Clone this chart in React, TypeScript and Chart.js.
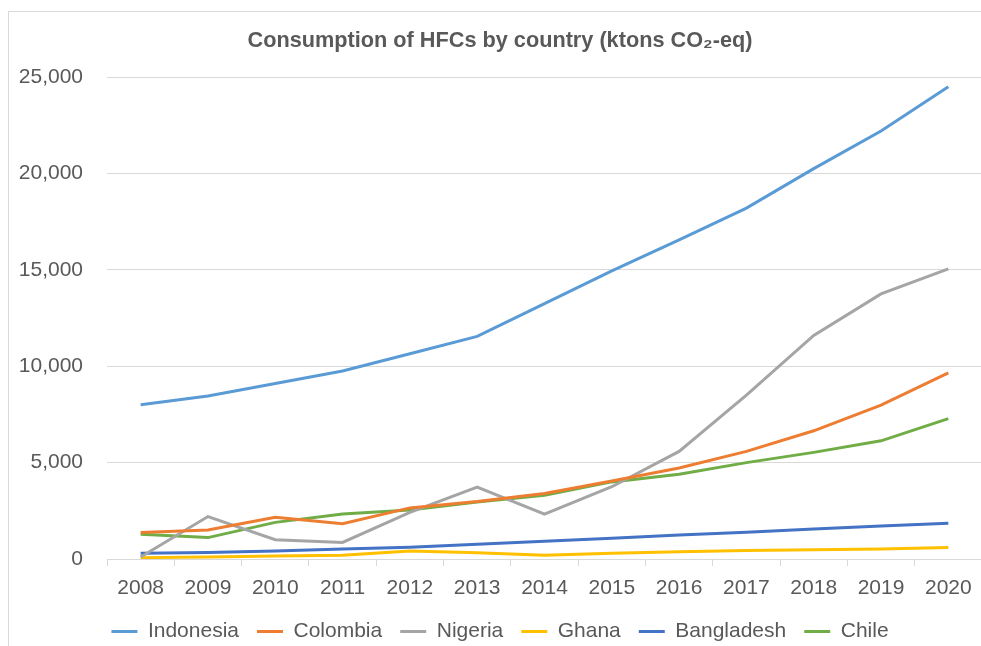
import React, { useEffect, useRef } from "react";
import { Chart, registerables } from "chart.js";

Chart.register(...registerables);

const years = ["2008", "2009", "2010", "2011", "2012", "2013", "2014", "2015", "2016", "2017", "2018", "2019", "2020"];
const indonesia = [8000, 8450, 9100, 9750, 10650, 11550, 13250, 14950, 16550, 18200, 20250, 22200, 24500];
const colombia = [1380, 1500, 2170, 1830, 2650, 2980, 3400, 4050, 4720, 5580, 6650, 7980, 9650];
const nigeria = [100, 2200, 1000, 860, 2420, 3730, 2330, 3750, 5580, 8500, 11600, 13750, 15050];
const ghana = [70, 110, 150, 200, 410, 330, 190, 300, 380, 440, 480, 520, 600];
const bangladesh = [300, 340, 420, 520, 610, 770, 920, 1080, 1240, 1390, 1550, 1710, 1860];
const chile = [1290, 1110, 1900, 2330, 2540, 2960, 3300, 4000, 4400, 5000, 5530, 6130, 7280];

const seriesNames = ["Indonesia", "Colombia", "Nigeria", "Ghana", "Bangladesh", "Chile"];
const seriesColors = ["#5B9BD5", "#ED7D31", "#A5A5A5", "#FFC000", "#4472C4", "#70AD47"];
const yTicks = [0, 5000, 10000, 15000, 20000, 25000];
const titleText = "Consumption of HFCs by country (ktons CO₂-eq)";

const FONT = "'Liberation Sans', Arial, sans-serif";

export default function App() {
  const ref = useRef<HTMLCanvasElement | null>(null);
  useEffect(() => {
    if (!ref.current) return;
    const values = [indonesia, colombia, nigeria, ghana, bangladesh, chile];
    const chart = new Chart(ref.current, {
      type: "line",
      data: {
        labels: years,
        datasets: seriesNames.map((name, i) => ({
          label: name,
          data: values[i],
          borderColor: seriesColors[i],
          backgroundColor: seriesColors[i],
          borderWidth: 3,
          pointRadius: 0,
          pointHoverRadius: 0,
          tension: 0,
          fill: false,
        })),
      },
      options: {
        animation: false,
        responsive: false,
        maintainAspectRatio: false,
        layout: { padding: { left: 9, right: 0, top: 0, bottom: 0 } },
        plugins: {
          title: {
            display: true,
            text: titleText,
            color: "#595959",
            font: { family: FONT, size: 21.7, weight: "bold" },
            padding: { top: 16, bottom: 23 },
          },
          legend: {
            position: "bottom",
            labels: {
              usePointStyle: true,
              pointStyle: "line",
              pointStyleWidth: 26,
              color: "#595959",
              font: { family: FONT, size: 21 },
              padding: 18,
            },
          },
          tooltip: { enabled: false },
        },
        scales: {
          x: {
            offset: true,
            afterFit: (axis: any) => {
              axis.height = 44;
            },
            grid: {
              offset: true,
              drawOnChartArea: false,
              drawTicks: true,
              tickLength: 7,
              color: "#d9d9d9",
            },
            border: { display: true, color: "#d9d9d9" },
            ticks: {
              color: "#595959",
              font: { family: FONT, size: 21 },
              padding: 10,
              maxRotation: 0,
              autoSkip: false,
            },
          },
          y: {
            min: 0,
            max: 25000,
            afterFit: (axis: any) => {
              axis.width = 89;
            },
            afterBuildTicks: (axis: any) => {
              axis.ticks = yTicks.map((v) => ({ value: v }));
            },
            grid: { color: "#d9d9d9", drawTicks: false },
            border: { display: false },
            ticks: {
              color: "#595959",
              font: { family: FONT, size: 21 },
              padding: 24,
              callback: (v: any) => Number(v).toLocaleString("en-US"),
            },
          },
        },
      },
    });
    return () => chart.destroy();
  }, []);
  return (
    <div
      style={{
        position: "absolute",
        left: 8,
        top: 11,
        width: 973,
        height: 645,
        borderLeft: "1px solid #d9d9d9",
        borderTop: "1px solid #d9d9d9",
        overflow: "hidden",
      }}
    >
      <canvas ref={ref} width={973} height={640} style={{ display: "block" }} />
    </div>
  );
}
